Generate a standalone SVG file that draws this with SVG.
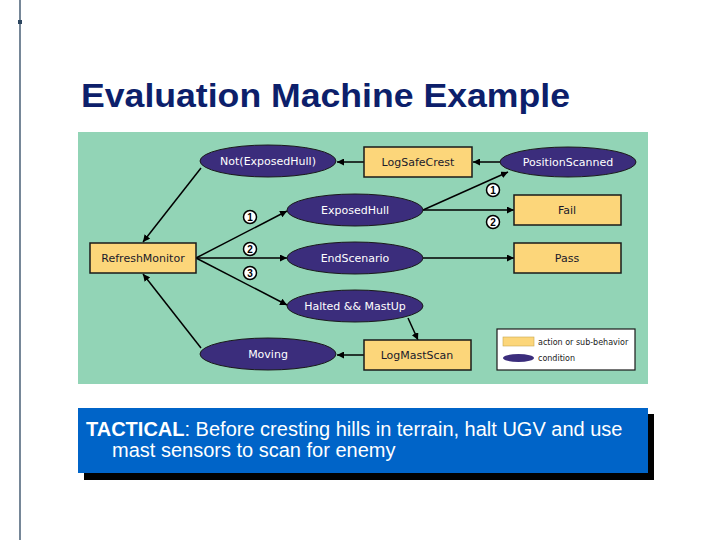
<svg xmlns="http://www.w3.org/2000/svg" width="720" height="540" viewBox="0 0 720 540">
<style>
.act{fill:#fcd67a;stroke:#1a1a1a;stroke-width:1.5}
.cond{fill:#3b2d7c;stroke:#1a1a1a;stroke-width:1}
.lbl{font-family:"DejaVu Sans","Liberation Sans",sans-serif;font-size:11px;text-anchor:middle}
.dark{fill:#1a1a2a}
.light{fill:#ffffff}
.num circle{fill:#ffffff;stroke:#000;stroke-width:1.5}
.num text{font-family:"Liberation Sans",sans-serif;font-size:10px;font-weight:bold;text-anchor:middle;fill:#000}
#connectors line{stroke:#000;stroke-width:1.5;marker-end:url(#ah)}
</style>
<defs>
<marker id="ah" viewBox="0 0 10 10" refX="10" refY="5" markerWidth="7" markerHeight="7" orient="auto" markerUnits="userSpaceOnUse">
<path d="M0,0 L10,5 L0,10 z" fill="#000"/>
</marker>
</defs>
<rect width="720" height="540" fill="#ffffff"/>
<line x1="20" y1="0" x2="20" y2="540" stroke="#2c4660" stroke-width="1.3"/>
<rect x="18" y="20" width="4" height="4" fill="#2c4660"/>
<text x="81" y="107" font-family="Liberation Sans,Arial,sans-serif" font-size="34" font-weight="bold" fill="#0d1f6b" textLength="489" lengthAdjust="spacingAndGlyphs">Evaluation Machine Example</text>

<rect x="78" y="132" width="570" height="252" fill="#92d4b6"/>

<g id="connectors">
<line x1="364" y1="162" x2="337" y2="162"/>
<line x1="500" y1="162" x2="473" y2="162"/>
<line x1="201" y1="168" x2="143" y2="242"/>
<line x1="196" y1="258" x2="287" y2="211"/>
<line x1="196" y1="258" x2="287" y2="258"/>
<line x1="196" y1="258" x2="287" y2="305"/>
<line x1="201" y1="348" x2="143" y2="274"/>
<line x1="423" y1="210" x2="508" y2="172"/>
<line x1="423" y1="210" x2="514" y2="210"/>
<line x1="423" y1="258" x2="514" y2="258"/>
<line x1="408" y1="318" x2="418" y2="340"/>
<line x1="364" y1="355" x2="337" y2="355"/>
</g>

<g id="NotExposedHull"><ellipse class="cond" cx="268" cy="161" rx="68" ry="16"/><text class="lbl light" x="268" y="165">Not(ExposedHull)</text></g>
<g id="LogSafeCrest"><rect class="act" x="364" y="147" width="108" height="30"/><text class="lbl dark" x="418" y="166">LogSafeCrest</text></g>
<g id="PositionScanned"><ellipse class="cond" cx="568" cy="162" rx="68" ry="15"/><text class="lbl light" x="568" y="166">PositionScanned</text></g>
<g id="ExposedHull"><ellipse class="cond" cx="355" cy="210" rx="68" ry="16"/><text class="lbl light" x="355" y="214">ExposedHull</text></g>
<g id="Fail"><rect class="act" x="514" y="195" width="107" height="30"/><text class="lbl dark" x="567" y="214">Fail</text></g>
<g id="RefreshMonitor"><rect class="act" x="90" y="243" width="106" height="30"/><text class="lbl dark" x="143" y="262">RefreshMonitor</text></g>
<g id="EndScenario"><ellipse class="cond" cx="355" cy="258" rx="68" ry="16"/><text class="lbl light" x="355" y="262">EndScenario</text></g>
<g id="Pass"><rect class="act" x="514" y="243" width="107" height="30"/><text class="lbl dark" x="567" y="262">Pass</text></g>
<g id="HaltedMastUp"><ellipse class="cond" cx="355" cy="306" rx="68" ry="16"/><text class="lbl light" x="355" y="310">Halted &amp;&amp; MastUp</text></g>
<g id="Moving"><ellipse class="cond" cx="268" cy="354" rx="68" ry="16"/><text class="lbl light" x="268" y="358">Moving</text></g>
<g id="LogMastScan"><rect class="act" x="364" y="340" width="107" height="30"/><text class="lbl dark" x="417" y="359">LogMastScan</text></g>

<g id="labels" class="num">
<circle cx="250" cy="217" r="6.5"/><text x="250" y="220.5">1</text>
<circle cx="250" cy="249" r="6.5"/><text x="250" y="252.5">2</text>
<circle cx="250" cy="273" r="6.5"/><text x="250" y="276.5">3</text>
<circle cx="493" cy="190" r="6.5"/><text x="493" y="193.5">1</text>
<circle cx="493" cy="222" r="6.5"/><text x="493" y="225.5">2</text>
</g>

<g id="legend">
<rect x="497" y="329" width="138" height="41" fill="#ffffff" stroke="#1a1a1a" stroke-width="1.2"/>
<rect x="503" y="337" width="31" height="9" fill="#fcd67a" stroke="#c8a850" stroke-width="0.6"/>
<text x="538" y="345" font-family="DejaVu Sans,Liberation Sans,sans-serif" font-size="8" fill="#1a1a1a">action or sub-behavior</text>
<ellipse cx="518.5" cy="358" rx="15.5" ry="4" fill="#3b2d7c"/>
<text x="538" y="361" font-family="DejaVu Sans,Liberation Sans,sans-serif" font-size="8" fill="#1a1a1a">condition</text>
</g>

<g id="tactical">
<rect x="84" y="414" width="570" height="66" fill="#000000"/>
<rect x="78" y="408" width="570" height="65" fill="#0064c8"/>
<text font-family="Liberation Sans,Arial,sans-serif" font-size="20" fill="#ffffff"><tspan x="86" y="436"><tspan font-weight="bold">TACTICAL</tspan>:  Before cresting hills in terrain, halt UGV and use</tspan><tspan x="112" y="457">mast sensors to scan for enemy</tspan></text>
</g>
</svg>
